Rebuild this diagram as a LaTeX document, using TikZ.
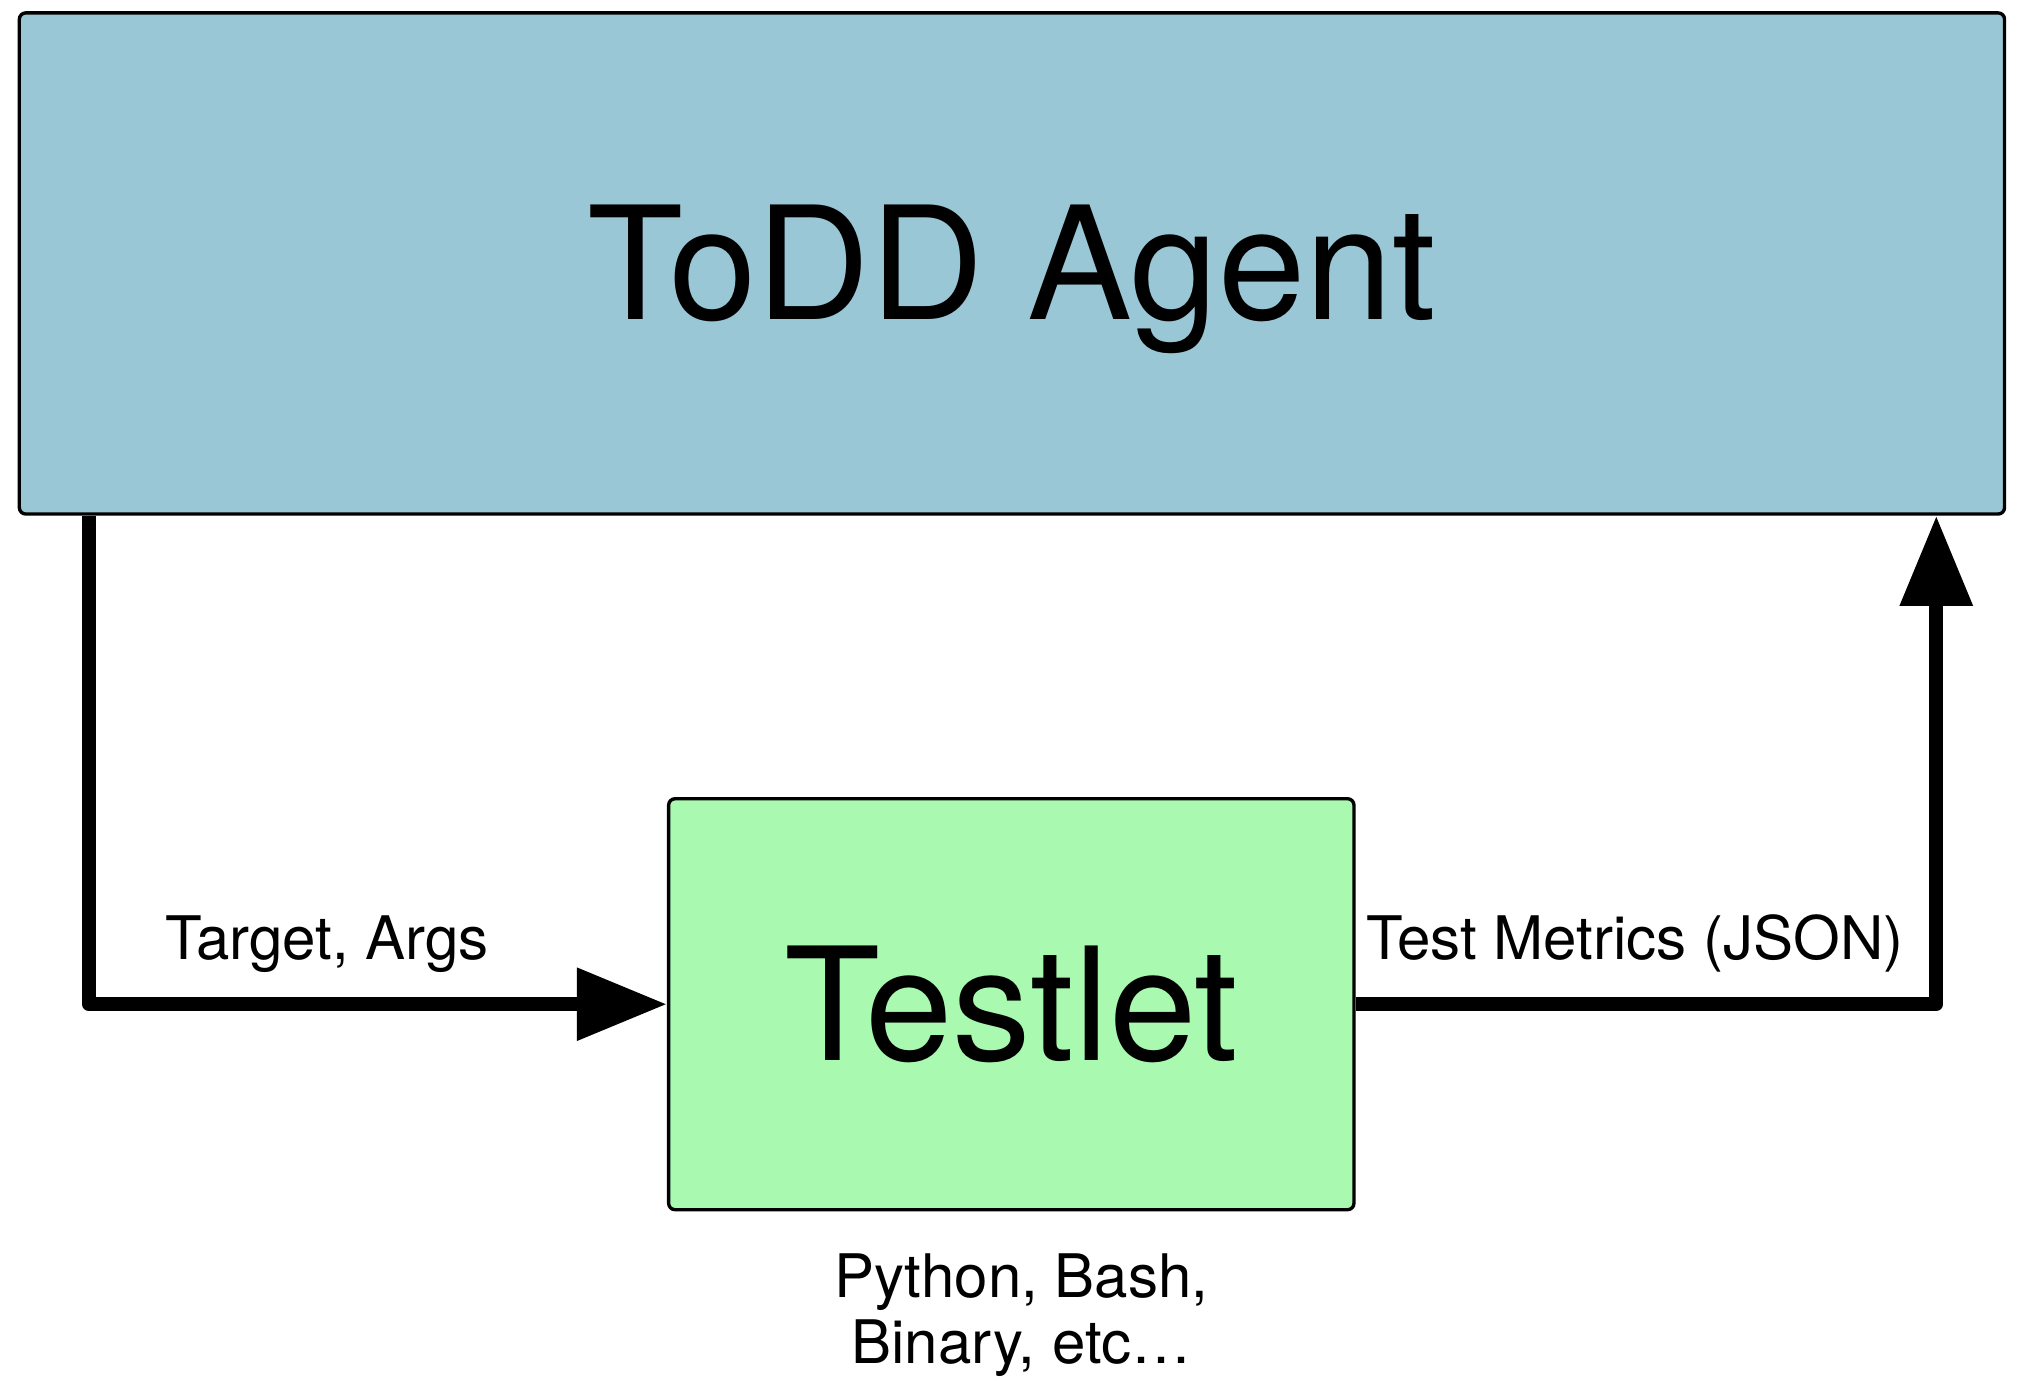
\documentclass[tikz,border=0pt]{standalone}
\usepackage{fontspec}
\setmainfont{TeX Gyre Heros}
\usetikzlibrary{arrows.meta}
\definecolor{agentblue}{RGB}{154,199,214}
\definecolor{testgreen}{RGB}{169,250,176}
\begin{document}
\begin{tikzpicture}[x=0.5pt,y=-0.5pt,
  box/.style={draw=black, line width=1.3pt, rounded corners=2.5pt, inner sep=0pt},
  bigtext/.style={font=\fontsize{61}{72}\selectfont, text height=43.8pt, text depth=0pt},
  flow/.style={line width=5.5pt, line join=round, -{Triangle[length=35pt,width=27pt]}},
  lbl/.style={font=\fontsize{23.3}{25.5}\selectfont, anchor=base}]
\useasboundingbox (0,0) rectangle (1568,1077);
\node[box, fill=agentblue, minimum width=770.5pt, minimum height=194.5pt, bigtext] (todd) at (785.5,204.5) {ToDD Agent};
\node[box, fill=testgreen, minimum width=266pt, minimum height=159.5pt, bigtext] (testlet) at (785,779.5) {Testlet};
\coordinate (lx) at (69,780);
\coordinate (rx) at (1503,780);
\draw[flow] (lx |- todd.south) |- (testlet.west);
\draw[flow] (testlet.east) -| (rx |- todd.south);
\node[lbl] (targs) at (254,745) {Target, Args};
\node[lbl] (tmet) at (1269,745) {Test Metrics (JSON)};
\node[font=\fontsize{23.3}{25.5}\selectfont, align=center, anchor=base] (lang) at (793,1058) {Python, Bash,\\Binary, etc…};
\end{tikzpicture}
\end{document}
